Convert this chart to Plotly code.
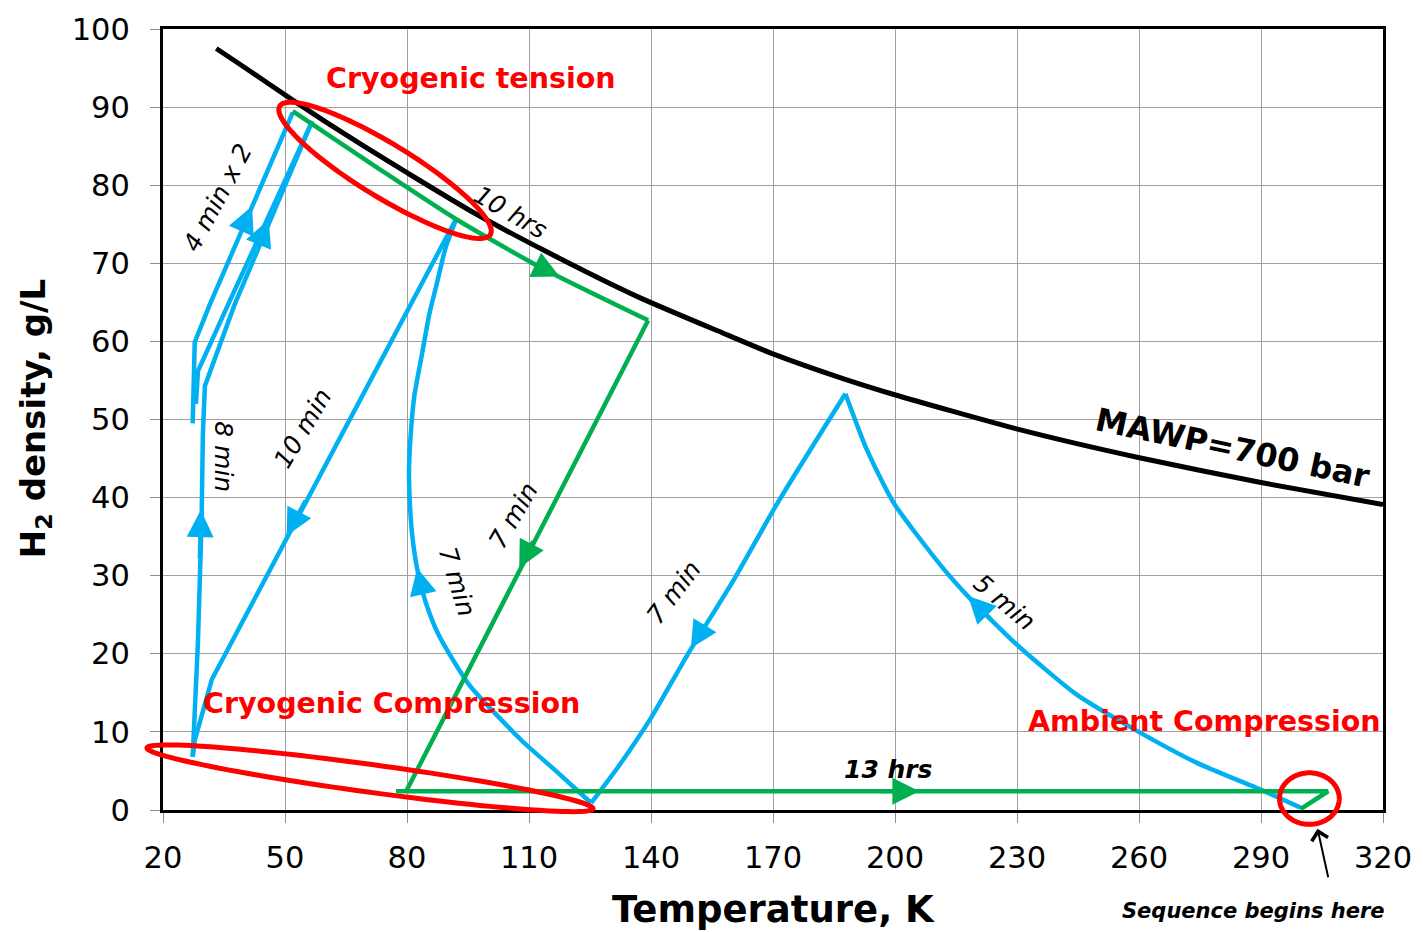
import numpy as np
import plotly.graph_objects as go

# ---------------- data (T in K, density in g/L) ----------------
mawp_T = [33.1, 40, 51.9, 60, 70, 80, 96, 113.9, 136.8, 158.9, 169.5, 187.4, 199.7, 229.9, 260.1, 290.3, 320]
mawp_rho = [97.5, 95.1, 90.9, 88.1, 84.8, 81.6, 76.6, 71.6, 65.7, 60.8, 58.5, 55.2, 53.2, 48.8, 45.1, 41.9, 39.1]

# blue (process) paths
amb_comp_T = [299.7, 290.4, 274.0, 259.3, 244.6, 229.9, 218.4, 211.9, 199.7, 193.1, 187.8]
amb_comp_rho = [0.3, 2.5, 6.1, 10.2, 14.8, 21.2, 27.1, 30.9, 39.3, 46.1, 53.3]
cool_T = [187.8, 171.1, 160.5, 149.0, 140.0, 131.9, 125.3]
cool_rho = [53.3, 39.3, 29.6, 19.9, 11.8, 5.5, 0.9]
cryo_T = [125.3, 116.4, 108.2, 95.2, 87.8, 84.6, 82.5, 81.3, 80.7, 80.5, 80.9, 81.8, 83.7, 85.5, 87.1, 89.5, 92.2]
cryo_rho = [0.9, 5.1, 8.9, 16.1, 22.4, 26.6, 30.9, 35.1, 39.3, 43.6, 48.0, 53.0, 58.4, 63.5, 66.9, 72.0, 75.8]
exp10_T = [92.2, 32.0, 27.8, 27.3]
exp10_rho = [75.8, 16.7, 8.9, 6.8]
vert8_T = [27.3, 28.6, 29.5, 29.8, 30.3, 37.6, 56.7]
vert8_rho = [6.8, 21.6, 37.2, 48.0, 54.3, 64.7, 88.2]
lineA_T = [27.3, 27.8, 31.5, 51.9]
lineA_rho = [49.5, 59.9, 64.7, 89.3]
lineB_T = [28.1, 28.6, 36.0, 56.7]
lineB_rho = [52.0, 56.2, 64.7, 88.2]

# green (dormancy) paths
tens_T = [51.9, 73.1, 91.9, 113.1, 139.3]
tens_rho = [89.5, 82.1, 75.7, 69.4, 62.7]
gcool_T = [139.3, 79.8]
gcool_rho = [62.7, 2.4]
warm_T = [77.3, 306.5, 299.7]
warm_rho = [2.4, 2.4, 0.1]

# arrows: (head T, head rho, tail T, tail rho)
blue_arrows = [
    (41.9, 77.3, 39.4, 74.3),
    (46.0, 75.6, 43.5, 72.4),
    (29.3, 38.4, 29.0, 32.0),
    (50.4, 35.1, 55.2, 39.8),
    (82.5, 31.0, 83.6, 28.5),
    (149.8, 20.7, 152.5, 23.0),
    (218.0, 27.4, 224.0, 24.2),
]
green_arrows = [
    (117.5, 68.3, 110.0, 70.2),
    (107.6, 31.0, 111.2, 34.6),
    (206.0, 2.4, 196.0, 2.4),
]

# duration labels: (text, T, rho, angle, bold)
labels = [
    ("10 hrs", 105.5, 76.5, 30, False),
    ("4 min x 2", 33.5, 78.4, -62, False),
    ("8 min", 34.7, 45.2, 90, False),
    ("10 min", 54.3, 48.9, -59, False),
    ("7 min", 106.2, 37.7, -60, False),
    ("7 min", 92.2, 29.2, 73, False),
    ("7 min", 145.5, 27.9, -53, False),
    ("5 min", 227.0, 26.6, 40, False),
    ("13 hrs", 198.5, 5.2, 0, True),
]

X_RANGE = [20, 320]
Y_RANGE = [0, 100]
W, H = 1424, 932
ML, MR, MT, MB = 163, 36, 22, 122
PW, PH = W - ML - MR, H - MT - MB

BLUE = "#00B0F0"
GREEN = "#00B050"
RED = "#FF0000"

fig = go.Figure()

def add_line(x, y, color, width, smooth=False):
    line = dict(color=color, width=width)
    if smooth:
        line.update(shape="spline", smoothing=0.6)
    fig.add_trace(go.Scatter(x=x, y=y, mode="lines", line=line,
                             showlegend=False, hoverinfo="skip"))

add_line(mawp_T, mawp_rho, "black", 5, True)
add_line(amb_comp_T, amb_comp_rho, BLUE, 4.5, True)
add_line(cool_T, cool_rho, BLUE, 4.5, True)
add_line(cryo_T, cryo_rho, BLUE, 4.5, True)
for xs, ys in [(exp10_T, exp10_rho), (vert8_T, vert8_rho), (lineA_T, lineA_rho), (lineB_T, lineB_rho)]:
    add_line(xs, ys, BLUE, 4.5)
add_line(tens_T, tens_rho, GREEN, 4.5, True)
for xs, ys in [(gcool_T, gcool_rho), (warm_T, warm_rho)]:
    add_line(xs, ys, GREEN, 4.5)

ann = []
for hx, hy, tx, ty in blue_arrows:
    ann.append(dict(x=hx, y=hy, ax=tx, ay=ty, xref="x", yref="y", axref="x", ayref="y", text="",
                    showarrow=True, arrowhead=2, arrowsize=1.35, arrowwidth=4, arrowcolor=BLUE))
for hx, hy, tx, ty in green_arrows:
    ann.append(dict(x=hx, y=hy, ax=tx, ay=ty, xref="x", yref="y", axref="x", ayref="y", text="",
                    showarrow=True, arrowhead=2, arrowsize=1.35, arrowwidth=4, arrowcolor=GREEN))

for txt, x, y, ang, bold in labels:
    t = f"<b><i>{txt}</i></b>" if bold else f"<i>{txt}</i>"
    ann.append(dict(x=x, y=y, xref="x", yref="y", text=t, showarrow=False, textangle=ang,
                    font=dict(family="DejaVu Sans", size=25, color="black")))

# MAWP label
ann.append(dict(x=283, y=46.3, xref="x", yref="y", text="<b>MAWP=700 bar</b>", showarrow=False,
                textangle=12, font=dict(family="DejaVu Sans", size=32, color="black")))

# red region labels
for txt, x, y in [("Cryogenic tension", 95.8, 93.6), ("Cryogenic Compression", 76.2, 13.6),
                  ("Ambient Compression", 276.0, 11.3)]:
    ann.append(dict(x=x, y=y, xref="x", yref="y", text=f"<b>{txt}</b>", showarrow=False,
                    font=dict(family="DejaVu Sans", size=28.5, color=RED)))

# sequence note (below the axis, so in paper units)
ann.append(dict(x=(303.9 - X_RANGE[0]) / (X_RANGE[1] - X_RANGE[0]), y=-0.024, ax=11, ay=50,
                xref="paper", yref="paper", text="",
                showarrow=True, arrowhead=4, arrowsize=1.6, arrowwidth=2, arrowcolor="black"))
ann.append(dict(x=(288.2 - X_RANGE[0]) / (X_RANGE[1] - X_RANGE[0]), y=-0.129, xref="paper", yref="paper",
                xanchor="center", yanchor="middle",
                text="<b><i>Sequence begins here</i></b>", showarrow=False,
                font=dict(family="DejaVu Sans", size=21, color="black")))

# axis titles
ann.append(dict(x=0.5, y=-0.127, xref="paper", yref="paper", text="<b>Temperature, K</b>", showarrow=False,
                xanchor="center", yanchor="middle", font=dict(family="DejaVu Sans", size=37, color="black")))
ann.append(dict(x=-0.1045, y=0.501, xref="paper", yref="paper", text="<b>H<sub>2</sub> density, g/L</b>",
                showarrow=False, textangle=-90, xanchor="center", yanchor="middle",
                font=dict(family="DejaVu Sans", size=34, color="black")))

# red ellipses (center in data units, semi-axes in pixels, tilt clockwise in degrees)
ellipses = [
    (74.6, 81.9, 124, 27, 31.5),
    (70.9, 4.06, 226, 14, 7.8),
    (301.9, 1.46, 30, 26, 0.0),
]
shapes = []
for cT, cR, a, b, ang in ellipses:
    th = np.deg2rad(ang)
    t = np.linspace(0, 2 * np.pi, 121)
    dx = a * np.cos(t) * np.cos(th) - b * np.sin(t) * np.sin(th)
    dy = a * np.cos(t) * np.sin(th) + b * np.sin(t) * np.cos(th)
    px = (cT - X_RANGE[0]) / (X_RANGE[1] - X_RANGE[0]) + dx / PW
    py = (cR - Y_RANGE[0]) / (Y_RANGE[1] - Y_RANGE[0]) - dy / PH
    path = "M " + " L ".join(f"{u:.5f},{v:.5f}" for u, v in zip(px, py)) + " Z"
    shapes.append(dict(type="path", path=path, xref="paper", yref="paper",
                       line=dict(color=RED, width=5), fillcolor="rgba(0,0,0,0)"))

axis_common = dict(showgrid=True, gridcolor="#A0A0A0", gridwidth=1, zeroline=False,
                   showline=True, linecolor="black", linewidth=3, mirror=True,
                   ticks="outside", ticklen=10, tickcolor="#909090", tickwidth=1,
                   tickfont=dict(family="DejaVu Sans", size=30.5, color="black"))

fig.update_xaxes(range=X_RANGE, dtick=30, tick0=20, ticklabelstandoff=8, **axis_common)
fig.update_yaxes(range=Y_RANGE, dtick=10, tick0=0, ticklabelstandoff=14, **axis_common)

fig.update_layout(width=W, height=H, autosize=False,
                  margin=dict(l=ML, r=MR, t=MT, b=MB),
                  paper_bgcolor="white", plot_bgcolor="white",
                  annotations=ann, shapes=shapes, showlegend=False)

fig.write_html("out.html", config={"displayModeBar": False},
               post_script="document.body.style.margin='0';document.body.style.overflow='hidden';")
